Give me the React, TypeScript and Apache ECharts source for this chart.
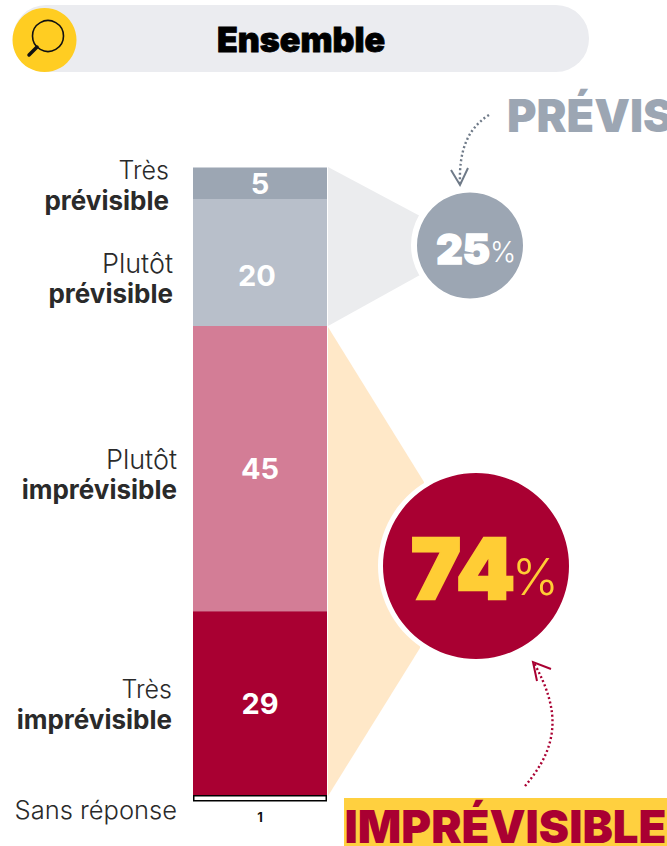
import React, { useEffect, useRef } from "react";
import * as echarts from "echarts";

const categories = ["Ensemble"];
const seriesNames = ["Très prévisible", "Plutôt prévisible", "Plutôt imprévisible", "Très imprévisible", "Sans réponse"];
const tresPrevisible = [5];
const plutotPrevisible = [20];
const plutotImprevisible = [45];
const tresImprevisible = [29];
const sansReponse = [1];
const seriesColors = ["#9ca6b3", "#b8bfca", "#d37d96", "#a90032", "#ffffff"];
const sideLabels: [string, string, number, number][] = [
  ["Très", "prévisible", 169, 185],
  ["Plutôt", "prévisible", 173, 278],
  ["Plutôt", "imprévisible", 177, 474],
  ["Très", "imprévisible", 172, 704],
];
const previsibleTotal = "25";
const imprevisibleTotal = "74";
const FONT = "Inter, 'Open Sans', sans-serif";

function lbl(offset: number[], extra: any = {}) {
  return { show: true, position: "inside", color: "#fff", fontFamily: FONT, fontWeight: 700, fontSize: 29, offset, ...extra };
}

export default function App() {
  const ref = useRef<HTMLDivElement>(null);
  useEffect(() => {
    document.body.style.margin = "0";
    const chart = echarts.init(ref.current!, undefined, { renderer: "svg" });
    const values = [tresPrevisible, plutotPrevisible, plutotImprevisible, tresImprevisible, sansReponse];
    const offsets = [[0, 0], [-3, 13], [0, 0], [0, 0]];
    const side: any[] = [];
    sideLabels.forEach(([a, b, x, y]) => {
      side.push({ type: "text", x, y: y - 15, z: 5, style: { text: a, align: "right", verticalAlign: "middle", fontFamily: FONT, fontSize: a === "Plutôt" ? 27 : 25, fontWeight: 300, fill: "#2a2a2a" } });
      side.push({ type: "text", x, y: y + 15, z: 5, style: { text: b, align: "right", verticalAlign: "middle", fontFamily: FONT, fontSize: 26, fontWeight: 700, fill: "#2a2a2a" } });
    });
    chart.setOption({
      animation: false,
      grid: { left: 193, top: 167.4, width: 134, height: 634 },
      xAxis: { type: "category", data: categories, show: false },
      yAxis: { type: "value", min: 0, max: 100, inverse: true, show: false },
      series: values.map((v, i) => ({
        name: seriesNames[i],
        type: "bar",
        stack: "t",
        barWidth: 134,
        data: v,
        z: 3,
        itemStyle: i === 4
          ? { color: seriesColors[i], borderColor: "#000", borderWidth: 1.5 }
          : { color: seriesColors[i] },
        label: i === 4
          ? { show: true, position: "bottom", distance: 9, color: "#111", fontFamily: FONT, fontWeight: 700, fontSize: 13 }
          : lbl(offsets[i]),
      })),
      graphic: [
        { type: "rect", z: 0, shape: { x: 13, y: 5, width: 576, height: 67, r: 33 }, style: { fill: "#ebecf0" } },
        { type: "circle", z: 1, shape: { cx: 44.5, cy: 40, r: 32 }, style: { fill: "#ffcd22" } },
        { type: "circle", z: 2, shape: { cx: 48, cy: 36, r: 15.5 }, style: { fill: "transparent", stroke: "#111", lineWidth: 1.6 } },
        { type: "line", z: 2, shape: { x1: 37, y1: 47, x2: 29, y2: 55 }, style: { stroke: "#111", lineWidth: 3.5, lineCap: "round" } },
        { type: "text", x: 301, y: 39, z: 3, style: { text: categories[0], align: "center", verticalAlign: "middle", fontFamily: FONT, fontSize: 34, fontWeight: 900, fill: "#000", stroke: "#000", lineWidth: 0.8 } },
        { type: "polygon", z: 0, shape: { points: [[328, 167], [420, 216], [420, 275], [328, 326]] }, style: { fill: "#ebecee" } },
        { type: "polygon", z: 0, shape: { points: [[328, 327], [424, 482], [420, 648], [328, 796]] }, style: { fill: "#ffe8c8" } },
        { type: "circle", z: 1, shape: { cx: 470, cy: 245, r: 59 }, style: { fill: "#fff" } },
        { type: "circle", z: 2, shape: { cx: 470, cy: 245.5, r: 53 }, style: { fill: "#9ca6b3" } },
        { type: "text", x: 490, y: 249, z: 3, style: { text: previsibleTotal, align: "right", verticalAlign: "middle", fontFamily: FONT, fontSize: 41, fontWeight: 900, fill: "#fff", stroke: "#fff", lineWidth: 1.5 } },
        { type: "text", x: 490, y: 252, z: 3, style: { text: "%", align: "left", verticalAlign: "middle", fontFamily: FONT, fontSize: 28, fontWeight: 300, fill: "#fff" } },
        { type: "circle", z: 1, shape: { cx: 476, cy: 566, r: 98 }, style: { fill: "#fff" } },
        { type: "circle", z: 2, shape: { cx: 476, cy: 566, r: 93 }, style: { fill: "#a90032" } },
        { type: "text", x: 515, y: 568, z: 3, style: { text: imprevisibleTotal, align: "right", verticalAlign: "middle", fontFamily: FONT, fontSize: 84, fontWeight: 900, fill: "#ffcd35", stroke: "#ffcd35", lineWidth: 2.5 } },
        { type: "text", x: 512, y: 577, z: 3, style: { text: "%", align: "left", verticalAlign: "middle", fontFamily: FONT, fontSize: 50, fontWeight: 300, fill: "#ffcd35" } },
        { type: "text", x: 507, y: 115, z: 3, style: { text: "PRÉVISIBLE", align: "left", verticalAlign: "middle", fontFamily: FONT, fontSize: 45, fontWeight: 900, fill: "#9ca6b3" } },
        { type: "rect", z: 2, shape: { x: 344, y: 798, width: 323, height: 48 }, style: { fill: "#ffd03f" } },
        { type: "text", x: 505.5, y: 826, z: 3, style: { text: "IMPRÉVISIBLE", align: "center", verticalAlign: "middle", fontFamily: FONT, fontSize: 45.5, fontWeight: 900, fill: "#a90032" } },
        { type: "bezierCurve", z: 2, shape: { x1: 489, y1: 115, cpx1: 465, cpy1: 130, cpx2: 459, cpy2: 155, x2: 460, y2: 184 }, style: { stroke: "#6f7a88", fill: "none", lineWidth: 2.4, lineDash: [2, 2.5] } },
        { type: "polyline", z: 2, shape: { points: [[451, 170], [460, 185], [468, 168]] }, style: { stroke: "#6f7a88", fill: "none", lineWidth: 2 } },
        { type: "bezierCurve", z: 2, shape: { x1: 525, y1: 786, cpx1: 560, cpy1: 745, cpx2: 560, cpy2: 710, x2: 534, y2: 663 }, style: { stroke: "#a90032", fill: "none", lineWidth: 2.4, lineDash: [2, 2.5] } },
        { type: "polyline", z: 2, shape: { points: [[551, 669], [533, 662], [537, 681]] }, style: { stroke: "#a90032", fill: "none", lineWidth: 2 } },
        ...side,
        { type: "text", x: 177, y: 809, z: 5, style: { text: seriesNames[4], align: "right", verticalAlign: "middle", fontFamily: FONT, fontSize: 25.5, fontWeight: 300, fill: "#2a2a2a" } },
      ],
    });
    return () => chart.dispose();
  }, []);
  return <div ref={ref} style={{ position: "absolute", left: 0, top: 0, width: 667, height: 846, overflow: "hidden" }} />;
}
